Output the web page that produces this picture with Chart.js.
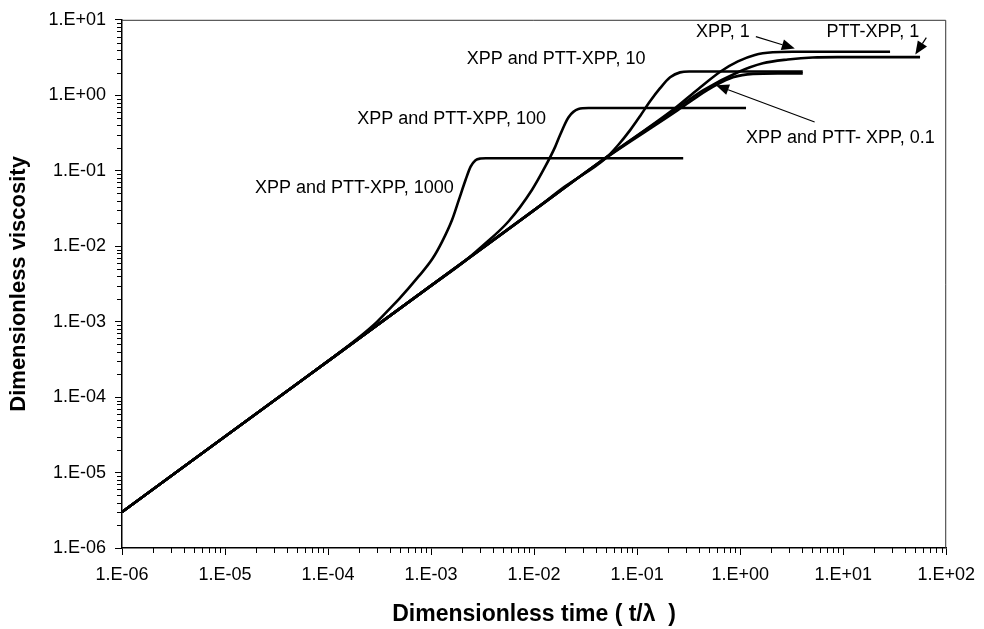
<!DOCTYPE html>
<html>
<head>
<meta charset="utf-8">
<script src="https://cdn.jsdelivr.net/npm/chart.js@4.4.1/dist/chart.umd.min.js"></script>
<style>
  html, body { margin: 0; padding: 0; background: #fff; }
  #wrap { width: 984px; height: 629px; position: relative; }
</style>
</head>
<body>
<div id="wrap"><canvas id="c" width="984" height="629"></canvas></div>
<script>
// ---- Data (dimensionless time t/lambda, dimensionless viscosity) ----
const t1000   = [1e-6, 1e-5, 1e-4, 2e-4, 3e-4, 4e-4, 4.9e-4, 7.6e-4, 1.03e-3, 1.28e-3, 1.6e-3, 1.86e-3, 2.16e-3, 2.42e-3, 2.7e-3, 3.02e-3, 3.4e-3, 0.28];
const eta1000 = [3e-6, 3e-5, 3e-4, 6.2e-4, 1.0e-3, 1.5e-3, 2.0e-3, 4.0e-3, 6.8e-3, 0.0115, 0.0224, 0.0411, 0.0752, 0.113, 0.138, 0.145, 0.146, 0.146];

const t100    = [1e-6, 1e-5, 1e-4, 1e-3, 1.86e-3, 3.13e-3, 5.66e-3, 9.52e-3, 0.0128, 0.016, 0.0179, 0.0216, 0.0269, 0.0337, 1.14];
const eta100  = [3e-6, 3e-5, 3e-4, 3e-3, 5.5e-3, 0.01, 0.0214, 0.0556, 0.113, 0.207, 0.300, 0.512, 0.658, 0.678, 0.678];

const t10     = [1e-6, 1e-5, 1e-4, 1e-3, 1e-2, 0.02, 0.0492, 0.0658, 0.0859, 0.107, 0.134, 0.167, 0.209, 0.261, 0.32, 4.05];
const eta10   = [3e-6, 3e-5, 3e-4, 3e-3, 0.03, 0.062, 0.145, 0.221, 0.348, 0.532, 0.837, 1.24, 1.73, 2.01, 2.06, 2.06];

const tXpp1   = [1e-6, 1e-5, 1e-4, 1e-3, 1e-2, 0.0481, 0.234, 0.39, 0.651, 0.951, 1.39, 2.07, 3.24, 28.5];
const etaXpp1 = [3e-6, 3e-5, 3e-4, 3e-3, 0.03, 0.145, 0.678, 1.205, 2.08, 2.81, 3.42, 3.71, 3.77, 3.77];

const tPtt1   = [1e-6, 1e-5, 1e-4, 1e-3, 1e-2, 0.0481, 0.239, 0.436, 0.951, 1.66, 2.90, 5.06, 8.83, 55.7];
const etaPtt1 = [3e-6, 3e-5, 3e-4, 3e-3, 0.03, 0.144, 0.658, 1.16, 2.02, 2.65, 2.98, 3.17, 3.2, 3.2];

const t01     = [1e-6, 1e-5, 1e-4, 1e-3, 1e-2, 0.0481, 0.25, 0.39, 0.582, 0.851, 1.33, 2.32, 4.05];
const eta01   = [3e-6, 3e-5, 3e-4, 3e-3, 0.03, 0.143, 0.638, 0.975, 1.36, 1.73, 1.92, 1.95, 1.95];

// ---- Tick labels ----
const xTickLabels = ['1.E-06','1.E-05','1.E-04','1.E-03','1.E-02','1.E-01','1.E+00','1.E+01','1.E+02'];
const yTickLabels = ['1.E-06','1.E-05','1.E-04','1.E-03','1.E-02','1.E-01','1.E+00','1.E+01'];
const xMinExp = -6, xMaxExp = 2, yMinExp = -6, yMaxExp = 1;

// ---- Annotations (data coordinates) ----
const annoTexts  = ['XPP, 1', 'PTT-XPP, 1', 'XPP and PTT-XPP, 10', 'XPP and PTT-XPP, 100', 'XPP and PTT-XPP, 1000', 'XPP and PTT- XPP, 0.1'];
const annoT      = [0.373, 6.9, 2.22e-3, 1.92e-4, 1.66e-3, 1.14];
const annoEta    = [6.95, 6.95, 2.98, 0.486, 0.0585, 0.274];
const annoAlign  = ['left', 'left', 'left', 'left', 'right', 'left'];

const arrowFromT   = [1.42, 64.1, 5.28];
const arrowFromEta = [5.98, 5.81, 0.443];
const arrowToT     = [3.39, 50.1, 0.582];
const arrowToEta   = [4.16, 3.47, 1.36];

function pts(ts, es) { return ts.map((t, i) => ({ x: t, y: es[i] })); }

function logTicks(minExp, maxExp) {
  const out = [];
  for (let e = minExp; e <= maxExp; e++) {
    for (let k = 1; k <= 9; k++) {
      if (e === maxExp && k > 1) break;
      out.push({ value: k * Math.pow(10, e) });
    }
  }
  return out;
}
function isPow10(v) {
  const e = Math.log10(v);
  return Math.abs(e - Math.round(e)) < 1e-6;
}
function labelFor(value, labels, minExp) {
  if (!isPow10(value)) return '';
  const i = Math.round(Math.log10(value)) - minExp;
  return labels[i] !== undefined ? labels[i] : '';
}

const FONT = "'Liberation Sans', Arial, Helvetica, sans-serif";

const lineStyle = {
  borderColor: '#000',
  borderWidth: 2.6,
  pointRadius: 0,
  fill: false,
  cubicInterpolationMode: 'monotone'
};

const annoPlugin = {
  id: 'annos',
  afterDatasetsDraw(chart) {
    const { ctx, scales: { x, y }, chartArea } = chart;
    ctx.save();
    // frame top & right
    ctx.strokeStyle = '#333';
    ctx.lineWidth = 1;
    ctx.beginPath();
    ctx.moveTo(chartArea.left, chartArea.top + 0.5);
    ctx.lineTo(chartArea.right - 0.5, chartArea.top + 0.5);
    ctx.lineTo(chartArea.right - 0.5, chartArea.bottom);
    ctx.stroke();

    // minor ticks (shorter than major ones)
    ctx.strokeStyle = '#000';
    ctx.lineWidth = 1;
    ctx.beginPath();
    logTicks(xMinExp, xMaxExp).forEach(tk => {
      if (isPow10(tk.value)) return;
      const px = Math.round(x.getPixelForValue(tk.value)) + 0.5;
      ctx.moveTo(px, chartArea.bottom);
      ctx.lineTo(px, chartArea.bottom + 5);
    });
    logTicks(yMinExp, yMaxExp).forEach(tk => {
      if (isPow10(tk.value)) return;
      const py = Math.round(y.getPixelForValue(tk.value)) + 0.5;
      ctx.moveTo(chartArea.left, py);
      ctx.lineTo(chartArea.left - 5, py);
    });
    ctx.stroke();

    ctx.fillStyle = '#000';
    ctx.font = '18px ' + FONT;
    ctx.textBaseline = 'middle';
    annoTexts.forEach((txt, i) => {
      ctx.textAlign = annoAlign[i];
      ctx.fillText(txt, x.getPixelForValue(annoT[i]), y.getPixelForValue(annoEta[i]));
    });

    ctx.strokeStyle = '#000';
    ctx.lineWidth = 1.2;
    arrowFromT.forEach((_, i) => {
      const x0 = x.getPixelForValue(arrowFromT[i]);
      const y0 = y.getPixelForValue(arrowFromEta[i]);
      const x1 = x.getPixelForValue(arrowToT[i]);
      const y1 = y.getPixelForValue(arrowToEta[i]);
      const ang = Math.atan2(y1 - y0, x1 - x0);
      const L = 13, W = 5.5;
      const bx = x1 - L * Math.cos(ang), by = y1 - L * Math.sin(ang);
      ctx.beginPath();
      ctx.moveTo(x0, y0);
      ctx.lineTo(bx, by);
      ctx.stroke();
      ctx.beginPath();
      ctx.moveTo(x1, y1);
      ctx.lineTo(bx + W * Math.sin(ang), by - W * Math.cos(ang));
      ctx.lineTo(bx - W * Math.sin(ang), by + W * Math.cos(ang));
      ctx.closePath();
      ctx.fill();
    });
    ctx.restore();
  }
};

const majorTickColor = c => (c.tick && isPow10(c.tick.value)) ? '#000' : 'rgba(0,0,0,0)';

new Chart(document.getElementById('c'), {
  type: 'line',
  data: {
    datasets: [
      { label: 'XPP and PTT-XPP, 1000', data: pts(t1000, eta1000), ...lineStyle },
      { label: 'XPP and PTT-XPP, 100',  data: pts(t100, eta100), ...lineStyle },
      { label: 'XPP and PTT-XPP, 10',   data: pts(t10, eta10), ...lineStyle },
      { label: 'XPP, 1',                data: pts(tXpp1, etaXpp1), ...lineStyle },
      { label: 'PTT-XPP, 1',            data: pts(tPtt1, etaPtt1), ...lineStyle },
      { label: 'XPP and PTT- XPP, 0.1', data: pts(t01, eta01), ...lineStyle }
    ]
  },
  options: {
    responsive: false,
    animation: false,
    layout: { padding: { top: 15, right: 35, left: 0, bottom: 0 } },
    plugins: { legend: { display: false }, tooltip: { enabled: false } },
    scales: {
      x: {
        type: 'logarithmic',
        min: 1e-6, max: 100,
        afterBuildTicks: s => { s.ticks = logTicks(xMinExp, xMaxExp); },
        afterFit: s => { s.height = 81; },
        ticks: {
          autoSkip: false, maxRotation: 0, minRotation: 0,
          color: '#000', padding: 9,
          font: { family: FONT, size: 18 },
          callback: v => labelFor(v, xTickLabels, xMinExp)
        },
        grid: { drawOnChartArea: false, drawTicks: true, tickLength: 7, tickColor: majorTickColor, color: '#000' },
        border: { color: '#000', width: 1.5 },
        title: {
          display: true, text: 'Dimensionless time ( t/\u03BB  )', color: '#000',
          font: { family: FONT, size: 23, weight: 'bold' },
          padding: { top: 0, bottom: 1 }
        }
      },
      y: {
        type: 'logarithmic',
        min: 1e-6, max: 10,
        afterBuildTicks: s => { s.ticks = logTicks(yMinExp, yMaxExp); },
        afterFit: s => { s.width = 122; },
        ticks: {
          autoSkip: false,
          color: '#000', padding: 9,
          font: { family: FONT, size: 18 },
          callback: v => labelFor(v, yTickLabels, yMinExp)
        },
        grid: { drawOnChartArea: false, drawTicks: true, tickLength: 7, tickColor: majorTickColor, color: '#000' },
        border: { color: '#000', width: 1.5 },
        title: {
          display: true, text: 'Dimensionless viscosity', color: '#000',
          font: { family: FONT, size: 22, weight: 'bold' },
          padding: { top: 6, bottom: 0 }
        }
      }
    }
  },
  plugins: [annoPlugin]
});
</script>
</body>
</html>
